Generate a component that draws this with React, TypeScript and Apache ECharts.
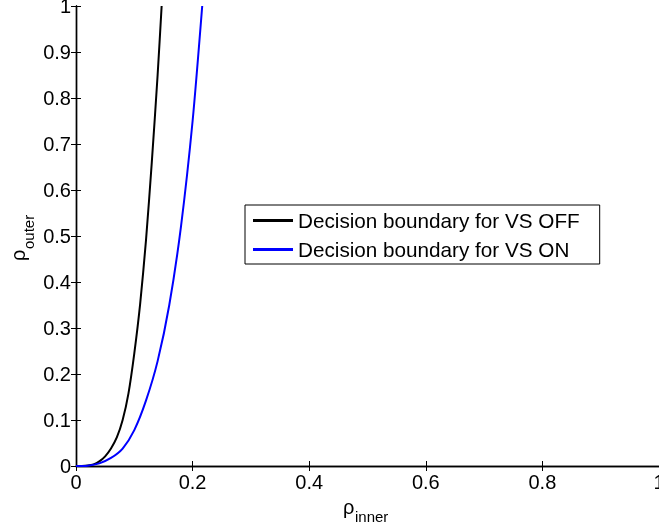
import React, { useEffect, useRef } from "react";
import * as echarts from "echarts";

const offX = [0, 0.01, 0.02, 0.03, 0.04, 0.05, 0.06, 0.07, 0.08, 0.09, 0.1, 0.11, 0.12, 0.13, 0.14, 0.1469];
const offY = [0, 0.0001, 0.001, 0.0035, 0.01, 0.021, 0.038, 0.062, 0.1, 0.158, 0.245, 0.352, 0.49, 0.66, 0.85, 1.0];
const onX = [0, 0.02, 0.04, 0.06, 0.08, 0.1, 0.12, 0.14, 0.16, 0.18, 0.2, 0.2165];
const onY = [0, 0.0008, 0.0058, 0.0175, 0.038, 0.078, 0.142, 0.228, 0.35, 0.52, 0.75, 1.0];
const seriesNames = ["Decision boundary for VS OFF", "Decision boundary for VS ON"];
const xTicks = [0, 0.2, 0.4, 0.6, 0.8, 1];
const yTicks = [0, 0.1, 0.2, 0.3, 0.4, 0.5, 0.6, 0.7, 0.8, 0.9, 1];

const FONT = "Liberation Sans, Arial, Helvetica, sans-serif";

export default function App() {
  const ref = useRef<HTMLDivElement>(null);
  useEffect(() => {
    document.body.style.margin = "0";
    const chart = echarts.init(ref.current!, null, { renderer: "svg" });
    const pair = (xs: number[], ys: number[]) => xs.map((x, i) => [x, ys[i]]);
    const axisCommon = {
      type: "value",
      min: 0,
      max: 1,
      splitLine: { show: false },
      axisLine: { show: true, lineStyle: { color: "#000", width: 1.4 } },
      axisTick: { show: true, inside: true, length: 5, lineStyle: { color: "#000", width: 1 } },
    };
    const fmt = (v: number) => (v === 0 ? "0" : v === 1 ? "1" : String(+v.toFixed(1)));
    chart.setOption({
      animation: false,
      textStyle: { fontFamily: FONT },
      grid: { left: 76, right: 0, top: 6, bottom: 62, containLabel: false, outerBoundsMode: "none" },
      xAxis: [
        {
          ...axisCommon,
          position: "bottom",
          interval: xTicks[1] - xTicks[0],
          axisLabel: { color: "#000", fontSize: 20, fontFamily: FONT, margin: 6, formatter: fmt, showMaxLabel: true, hideOverlap: false },
        },
        {
          ...axisCommon,
          position: "top",
          interval: xTicks[1] - xTicks[0],
          axisLabel: { show: false },
        },
      ],
      yAxis: [
        {
          ...axisCommon,
          position: "left",
          interval: yTicks[1] - yTicks[0],
          axisLabel: { color: "#000", fontSize: 20, fontFamily: FONT, margin: 5, formatter: fmt, hideOverlap: false },
        },
        {
          ...axisCommon,
          position: "right",
          interval: yTicks[1] - yTicks[0],
          axisLabel: { show: false },
        },
      ],
      legend: {
        orient: "vertical",
        left: 245,
        top: 205,
        padding: [5, 20, 4, 8],
        itemGap: 8,
        itemWidth: 40,
        itemHeight: 3,
        icon: "rect",
        borderColor: "#000",
        borderWidth: 1,
        backgroundColor: "#fff",
        textStyle: { color: "#000", fontSize: 20.7, fontFamily: FONT, padding: [0, 0, 0, 0] },
        data: seriesNames,
      },
      series: [
        {
          name: seriesNames[0],
          type: "line",
          data: pair(offX, offY),
          smooth: 0.25,
          symbol: "none",
          lineStyle: { color: "#000", width: 2 },
          itemStyle: { color: "#000" },
        },
        {
          name: seriesNames[1],
          type: "line",
          data: pair(onX, onY),
          smooth: 0.25,
          symbol: "none",
          lineStyle: { color: "#0000ff", width: 2 },
          itemStyle: { color: "#0000ff" },
        },
      ],
      graphic: [
        {
          type: "text",
          x: 343,
          y: 507,
          style: { text: "ρ", fontSize: 20, fontFamily: FONT, fill: "#000", verticalAlign: "middle", align: "left" },
        },
        {
          type: "text",
          x: 355,
          y: 516,
          style: { text: "inner", fontSize: 15, fontFamily: FONT, fill: "#000", verticalAlign: "middle", align: "left" },
        },
        {
          type: "group",
          x: 22,
          y: 236,
          rotation: Math.PI / 2,
          children: [
            {
              type: "text",
              x: -25,
              y: -4,
              style: { text: "ρ", fontSize: 20, fontFamily: FONT, fill: "#000", verticalAlign: "middle", align: "left" },
            },
            {
              type: "text",
              x: -13,
              y: 6,
              style: { text: "outer", fontSize: 15, fontFamily: FONT, fill: "#000", verticalAlign: "middle", align: "left" },
            },
          ],
        },
      ],
    });
    return () => chart.dispose();
  }, []);
  return <div ref={ref} style={{ position: "fixed", left: 0, top: 0, width: 659, height: 528 }} />;
}
